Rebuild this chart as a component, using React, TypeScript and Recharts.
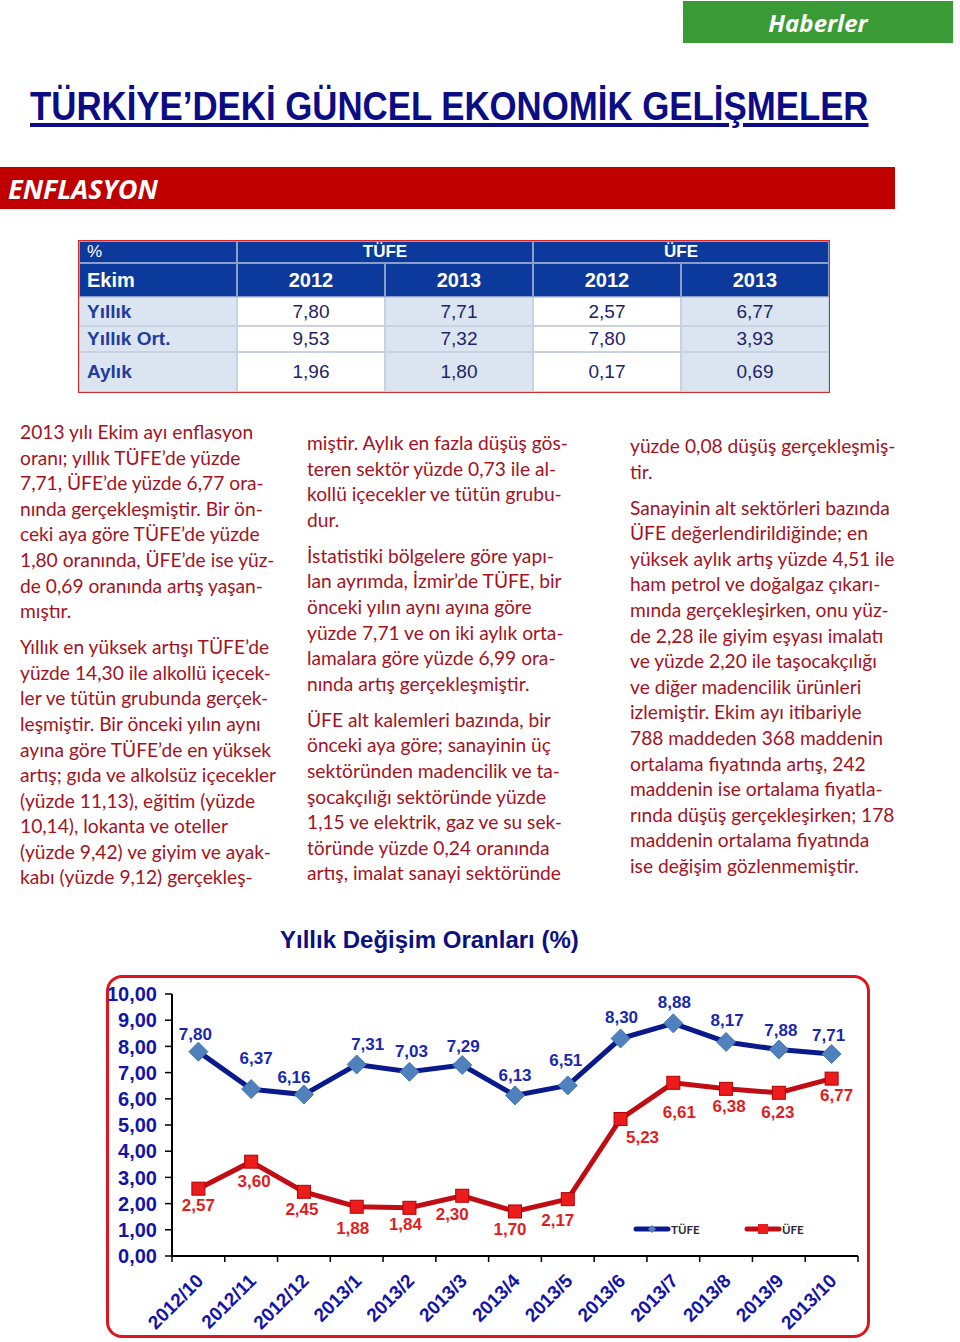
import { LineChart, Line, XAxis, YAxis, LabelList } from 'recharts';

// chart data (yıllık değişim, %)
const months = [
  '2012/10', '2012/11', '2012/12', '2013/1', '2013/2', '2013/3', '2013/4',
  '2013/5', '2013/6', '2013/7', '2013/8', '2013/9', '2013/10',
];
const tufe = [7.8, 6.37, 6.16, 7.31, 7.03, 7.29, 6.13, 6.51, 8.3, 8.88, 8.17, 7.88, 7.71];
const ufe = [2.57, 3.6, 2.45, 1.88, 1.84, 2.3, 1.7, 2.17, 5.23, 6.61, 6.38, 6.23, 6.77];
const yTicks = [0, 1, 2, 3, 4, 5, 6, 7, 8, 9, 10];

// table data
const tableHead = ['TÜFE', 'ÜFE'];
const tableYears = ['2012', '2013', '2012', '2013'];
const tableLabels = ['Yıllık', 'Yıllık Ort.', 'Aylık'];
const tableValues = [
  ['7,80', '7,71', '2,57', '6,77'],
  ['9,53', '7,32', '7,80', '3,93'],
  ['1,96', '1,80', '0,17', '0,69'],
];

const col1 = [
  ['2013 yılı Ekim ayı enflasyon', 'oranı; yıllık TÜFE’de yüzde', '7,71, ÜFE’de yüzde 6,77 ora-', 'nında gerçekleşmiştir. Bir ön-', 'ceki aya göre TÜFE’de yüzde', '1,80 oranında, ÜFE’de ise yüz-', 'de 0,69 oranında artış yaşan-', 'mıştır.'],
  ['Yıllık en yüksek artışı TÜFE’de', 'yüzde 14,30 ile alkollü içecek-', 'ler ve tütün grubunda gerçek-', 'leşmiştir. Bir önceki yılın aynı', 'ayına göre TÜFE’de en yüksek', 'artış; gıda ve alkolsüz içecekler', '(yüzde 11,13), eğitim (yüzde', '10,14), lokanta ve oteller', '(yüzde 9,42) ve giyim ve ayak-', 'kabı (yüzde 9,12) gerçekleş-'],
];
const col2 = [
  ['miştir. Aylık en fazla düşüş gös-', 'teren sektör yüzde 0,73 ile al-', 'kollü içecekler ve tütün grubu-', 'dur.'],
  ['İstatistiki bölgelere göre yapı-', 'lan ayrımda, İzmir’de TÜFE, bir', 'önceki yılın aynı ayına göre', 'yüzde 7,71 ve on iki aylık orta-', 'lamalara göre yüzde 6,99 ora-', 'nında artış gerçekleşmiştir.'],
  ['ÜFE alt kalemleri bazında, bir', 'önceki aya göre; sanayinin üç', 'sektöründen madencilik ve ta-', 'şocakçılığı sektöründe yüzde', '1,15 ve elektrik, gaz ve su sek-', 'töründe yüzde 0,24 oranında', 'artış, imalat sanayi sektöründe'],
];
const col3 = [
  ['yüzde 0,08 düşüş gerçekleşmiş-', 'tir.'],
  ['Sanayinin alt sektörleri bazında', 'ÜFE değerlendirildiğinde; en', 'yüksek aylık artış yüzde 4,51 ile', 'ham petrol ve doğalgaz çıkarı-', 'mında gerçekleşirken, onu yüz-', 'de 2,28 ile giyim eşyası imalatı', 've yüzde 2,20 ile taşocakçılığı', 've diğer madencilik ürünleri', 'izlemiştir. Ekim ayı itibariyle', '788 maddeden 368 maddenin', 'ortalama fiyatında artış, 242', 'maddenin ise ortalama fiyatla-', 'rında düşüş gerçekleşirken; 178', 'maddenin ortalama fiyatında', 'ise değişim gözlenmemiştir.'],
];

const chartData = months.map((m, i) => ({ month: m, tufe: tufe[i], ufe: ufe[i] }));

const fmt = (v: number) => v.toFixed(2).replace('.', ',');

const ARIAL = '"Liberation Sans", Arial, sans-serif';
const BODY = 'Lato, "Open Sans", sans-serif';
const NAVY = '#0a1a8c';
const RED = '#c00d14';
const AXIS_BLUE = '#1414a6';

const CHART_W = 770;
const CHART_H = 357;
const MARGIN = { top: 16, right: 12, left: 17, bottom: 0 };
const Y_W = 55;
const BAND = (CHART_W - MARGIN.left - MARGIN.right - Y_W) / months.length;

// label nudges, Excel style
const tufeShift = [[-3, -17], [5, -31], [-10, -17], [11, -20], [2, -20], [1, -19], [0, -20], [-2, -25], [1, -21], [1, -21], [1, -21], [2, -19], [-3, -18]];
const ufeShift = [[0, 17], [3, 20], [-2, 18], [-4, 22], [-4, 17], [-10, 19], [-5, 18], [-10, 21], [22, 19], [6, 30], [3, 18], [-1, 20], [5, 17]];

function makeLabel(shift: number[][], color: string) {
  return (p: any) => {
    const [dx, dy] = shift[p.index] || [0, -18];
    return (
      <text
        x={p.x + dx}
        y={p.y + dy}
        textAnchor="middle"
        dominantBaseline="central"
        fill={color}
        fontSize={17}
        fontWeight="bold"
        fontFamily={ARIAL}
      >
        {fmt(p.value)}
      </text>
    );
  };
}

const renderDiamond = (p: any) => {
  const s = 9.5;
  return (
    <polygon
      key={`dia-${p.index}`}
      points={`${p.cx},${p.cy - s} ${p.cx + s},${p.cy} ${p.cx},${p.cy + s} ${p.cx - s},${p.cy}`}
      fill="#4f81bd"
      stroke="#4a78b0"
      strokeWidth={1}
    />
  );
};

const renderSquare = (p: any) => {
  const s = 6.5;
  return (
    <rect
      key={`sq-${p.index}`}
      x={p.cx - s}
      y={p.cy - s}
      width={s * 2}
      height={s * 2}
      fill="#ec1c1c"
      stroke="#b00000"
      strokeWidth={1}
    />
  );
};

function XTick({ x, y, payload, index }: any) {
  const last = index === months.length - 1;
  return (
    <g>
      <line x1={x - BAND / 2} y1={y} x2={x - BAND / 2} y2={y + 6} stroke="#000" strokeWidth={1.5} />
      {last && <line x1={x + BAND / 2} y1={y} x2={x + BAND / 2} y2={y + 6} stroke="#000" strokeWidth={1.5} />}
      <text
        x={x + 6}
        y={y + 26}
        transform={`rotate(-45, ${x + 6}, ${y + 26})`}
        textAnchor="end"
        fill={AXIS_BLUE}
        fontSize={19}
        fontWeight="bold"
        fontFamily={ARIAL}
      >
        {payload.value}
      </text>
    </g>
  );
}

function TextColumn({ paras, left, top, width }: { paras: string[][]; left: number; top: number; width: number }) {
  return (
    <div style={{ position: 'absolute', left, top, width, fontFamily: BODY, fontSize: 19.2, lineHeight: '25.6px', color: '#a3121e' }}>
      {paras.map((lines, i) => (
        <div key={i} style={{ marginBottom: 10.4 }}>
          {lines.map((l, j) => (
            <div key={j} style={{ whiteSpace: 'pre' }}>{l}</div>
          ))}
        </div>
      ))}
    </div>
  );
}

const colX = [79, 237, 385, 533, 681, 829];
const rowY = [241, 263, 297, 326, 352, 392];
const HEAD_BG = '#0b3a9c';
const LIGHT = '#dbe5f1';

function Cell({ c0, c1, r, bg, children, align = 'center', style }: any) {
  return (
    <div
      style={{
        position: 'absolute',
        left: colX[c0] - 79 + 1,
        top: rowY[r] - 241 + 1,
        width: colX[c1] - colX[c0] - 2,
        height: rowY[r + 1] - rowY[r] - 2,
        background: bg,
        display: 'flex',
        alignItems: 'center',
        justifyContent: align === 'left' ? 'flex-start' : 'center',
        paddingLeft: align === 'left' ? 7 : 0,
        boxSizing: 'border-box',
        fontFamily: ARIAL,
        ...style,
      }}
    >
      {children}
    </div>
  );
}

function InflationTable() {
  return (
    <div
      style={{
        position: 'absolute',
        left: 78,
        top: 240,
        width: 752,
        height: 153,
        border: '1px solid #d42a2a',
        boxSizing: 'border-box',
        background: '#c9d2e0',
      }}
    >
      <div style={{ position: 'absolute', left: 0, top: 0, width: 750, height: 56, background: '#8a9cc8' }} />
      <Cell c0={0} c1={1} r={0} bg={HEAD_BG} align="left" style={{ color: '#fff', fontSize: 17 }}>%</Cell>
      <Cell c0={1} c1={3} r={0} bg={HEAD_BG} style={{ color: '#fff', fontSize: 17, fontWeight: 'bold' }}>{tableHead[0]}</Cell>
      <Cell c0={3} c1={5} r={0} bg={HEAD_BG} style={{ color: '#fff', fontSize: 17, fontWeight: 'bold' }}>{tableHead[1]}</Cell>
      <Cell c0={0} c1={1} r={1} bg={HEAD_BG} align="left" style={{ color: '#fff', fontSize: 20, fontWeight: 'bold' }}>Ekim</Cell>
      {tableYears.map((yr, i) => (
        <Cell key={i} c0={i + 1} c1={i + 2} r={1} bg={HEAD_BG} style={{ color: '#fff', fontSize: 20, fontWeight: 'bold' }}>{yr}</Cell>
      ))}
      {tableLabels.map((lab, r) => (
        <div key={r}>
          <Cell c0={0} c1={1} r={r + 2} bg={LIGHT} align="left" style={{ color: '#1f3ba0', fontSize: 19, fontWeight: 'bold' }}>{lab}</Cell>
          {tableValues[r].map((v, i) => (
            <Cell key={i} c0={i + 1} c1={i + 2} r={r + 2} bg={i % 2 === 0 ? '#ffffff' : LIGHT} style={{ color: '#1c2466', fontSize: 19 }}>{v}</Cell>
          ))}
        </div>
      ))}
    </div>
  );
}

function InflationChart() {
  return (
    <LineChart width={CHART_W} height={CHART_H} data={chartData} margin={MARGIN}>
      <XAxis
        dataKey="month"
        height={79}
        interval={0}
        padding={{ left: BAND / 2, right: BAND / 2 }}
        tickLine={false}
        tickSize={0}
        tickMargin={0}
        axisLine={{ stroke: '#000', strokeWidth: 2 }}
        tick={<XTick />}
      />
      <YAxis
        width={Y_W}
        domain={[0, 10]}
        ticks={yTicks}
        interval={0}
        tickFormatter={fmt}
        tickSize={7}
        tickMargin={8}
        axisLine={{ stroke: '#000', strokeWidth: 2 }}
        tickLine={{ stroke: '#000', strokeWidth: 1.5 }}
        tick={{ fill: AXIS_BLUE, fontSize: 20, fontWeight: 'bold', fontFamily: ARIAL }}
      />
      <Line
        dataKey="tufe"
        stroke={NAVY}
        strokeWidth={5}
        dot={renderDiamond}
        activeDot={false}
        isAnimationActive={false}
      >
        <LabelList dataKey="tufe" content={makeLabel(tufeShift, '#1a28b0')} />
      </Line>
      <Line
        dataKey="ufe"
        stroke={RED}
        strokeWidth={5}
        dot={renderSquare}
        activeDot={false}
        isAnimationActive={false}
      >
        <LabelList dataKey="ufe" content={makeLabel(ufeShift, '#e01e1e')} />
      </Line>
    </LineChart>
  );
}

function LegendKey({ left, color, marker, label }: any) {
  return (
    <div style={{ position: 'absolute', left, top: 1221, display: 'flex', alignItems: 'center' }}>
      <svg width={38} height={16}>
        <line x1={3} y1={8} x2={35} y2={8} stroke={color} strokeWidth={5} strokeLinecap="round" />
        {marker === 'diamond' ? (
          <polygon points="19,4 23,8 19,12 15,8" fill="#4f81bd" />
        ) : (
          <rect x={14} y={3} width={10} height={10} fill="#ec1c1c" />
        )}
      </svg>
      <span style={{ fontFamily: BODY, fontWeight: 'bold', fontSize: 11.5, color: '#2a2a3a', marginLeft: 0 }}>{label}</span>
    </div>
  );
}

export default function App() {
  return (
    <div style={{ position: 'absolute', left: 0, top: 0, width: 960, height: 1342, background: '#fff', overflow: 'hidden' }}>
      <div
        style={{
          position: 'absolute', left: 683, top: 1, width: 270, height: 42, background: '#3a9a36',
          display: 'flex', alignItems: 'center', justifyContent: 'center',
          color: '#fff', fontFamily: '"Open Sans", sans-serif', fontStyle: 'italic', fontWeight: 'bold', fontSize: 24,
        }}
      >
        Haberler
      </div>

      <div
        style={{
          position: 'absolute', left: 30, top: 84, whiteSpace: 'nowrap',
          transform: 'scaleX(0.87)', transformOrigin: 'left top',
          fontFamily: ARIAL, fontWeight: 'bold', fontSize: 40, color: '#0c0c84',
          textDecoration: 'underline', textDecorationThickness: 4, textUnderlineOffset: 3,
        }}
      >
        TÜRKİYE’DEKİ GÜNCEL EKONOMİK GELİŞMELER
      </div>

      <div
        style={{
          position: 'absolute', left: 0, top: 167, width: 895, height: 42, background: '#c00000',
          display: 'flex', alignItems: 'center', paddingLeft: 8, boxSizing: 'border-box',
          color: '#fff', fontFamily: '"Open Sans", sans-serif', fontStyle: 'italic', fontWeight: 'bold', fontSize: 27,
        }}
      >
        ENFLASYON
      </div>

      <InflationTable />

      <TextColumn paras={col1} left={20} top={419} width={280} />
      <TextColumn paras={col2} left={307} top={430} width={290} />
      <TextColumn paras={col3} left={630} top={433} width={300} />

      <div
        style={{
          position: 'absolute', left: 280, top: 926, whiteSpace: 'nowrap',
          fontFamily: ARIAL, fontWeight: 'bold', fontSize: 24, color: '#0c1080',
        }}
      >
        Yıllık Değişim Oranları (%)
      </div>

      <div
        style={{
          position: 'absolute', left: 106, top: 975, width: 764, height: 363,
          border: '3px solid #e0141a', borderRadius: 16, boxSizing: 'border-box',
        }}
      />
      <div style={{ position: 'absolute', left: 100, top: 978 }}>
        <InflationChart />
      </div>

      <LegendKey left={633} color={NAVY} marker="diamond" label="TÜFE" />
      <LegendKey left={744} color={RED} marker="square" label="ÜFE" />
    </div>
  );
}
